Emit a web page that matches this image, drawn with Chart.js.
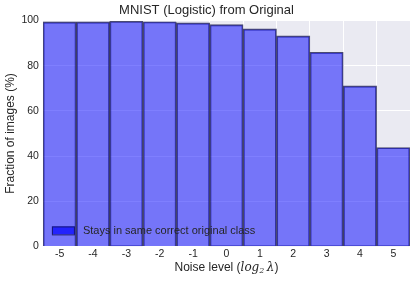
<!DOCTYPE html>
<html>
<head>
<meta charset="utf-8">
<script src="https://cdn.jsdelivr.net/npm/chart.js@4.4.0/dist/chart.umd.min.js"></script>
<style>
  html, body { margin: 0; padding: 0; background: #fff; }
  #wrap { width: 416px; height: 281px; position: relative; }
</style>
</head>
<body>
<div id="wrap"><canvas id="chartNoise"></canvas></div>
<script>
// === Data ===
const noiseLevels = ['-5', '-4', '-3', '-2', '-1', '0', '1', '2', '3', '4', '5'];
const staysSame = [99.4, 99.4, 99.7, 99.5, 99.0, 98.2, 96.3, 93.2, 86.0, 71.1, 43.8];
const yTicks = [0, 20, 40, 60, 80, 100];

const FONT = '"Liberation Sans", Arial, sans-serif';

// background of the plot area (seaborn-like)
const plotBg = {
  id: 'plotBg',
  beforeDraw(chart) {
    const { ctx, chartArea: a } = chart;
    ctx.save();
    ctx.fillStyle = '#EAEAF2';
    ctx.fillRect(a.left, a.top, a.right - a.left, a.bottom - a.top);
    ctx.restore();
  }
};

// legend inside the plot, lower left, and x axis title with math part
const extras = {
  id: 'extras',
  afterDatasetsDraw(chart) {
    const { ctx, chartArea: a } = chart;
    const ds = chart.data.datasets[0];
    ctx.save();
    // legend
    const bx = a.left + 9, by = a.bottom - 20;
    ctx.fillStyle = 'rgba(0,0,255,0.7)';
    ctx.fillRect(bx, by, 23, 8);
    ctx.strokeStyle = 'rgba(20,20,80,0.8)';
    ctx.lineWidth = 1;
    ctx.strokeRect(bx + 0.5, by + 0.5, 22, 8);
    ctx.fillStyle = '#262626';
    ctx.font = '11px ' + FONT;
    ctx.textBaseline = 'middle';
    ctx.textAlign = 'left';
    ctx.fillText(ds.label, bx + 31, by + 4.5);

    // x axis title: Noise level (log2 λ)
    const y = 268;
    const parts = [
      { t: 'Noise level (', f: '12px ' + FONT, dy: 0 },
      { t: 'log', f: 'italic 12px "DejaVu Serif", serif', dy: 0 },
      { t: '2', f: 'italic 8px "DejaVu Serif", serif', dy: 3 },
      { t: '\u2009λ', f: 'italic 12px "DejaVu Serif", serif', dy: 0 },
      { t: ')', f: '12px ' + FONT, dy: 0 }
    ];
    let total = 0;
    parts.forEach(p => { ctx.font = p.f; p.w = ctx.measureText(p.t).width; total += p.w; });
    let x = (a.left + a.right) / 2 - total / 2;
    parts.forEach(p => {
      ctx.font = p.f;
      ctx.fillText(p.t, x, y + p.dy);
      x += p.w;
    });
    ctx.restore();
  }
};

const ctx = document.getElementById('chartNoise');
new Chart(ctx, {
  type: 'bar',
  data: {
    labels: noiseLevels,
    datasets: [{
      label: 'Stays in same correct original class',
      data: staysSame,
      backgroundColor: 'rgba(0,0,255,0.5)',
      borderColor: 'rgba(20,20,70,0.75)',
      borderWidth: 1.2,
      barPercentage: 1,
      categoryPercentage: 1
    }]
  },
  plugins: [plotBg, extras],
  options: {
    responsive: true,
    maintainAspectRatio: false,
    animation: false,
    layout: { padding: { left: 3, right: 6, top: 0, bottom: 20 } },
    plugins: {
      legend: { display: false },
      tooltip: { enabled: false },
      title: {
        display: true,
        text: 'MNIST (Logistic) from Original',
        color: '#262626',
        font: { family: FONT, size: 13, weight: 'normal' },
        padding: { top: 3, bottom: 2 }
      }
    },
    scales: {
      x: {
        grid: { color: '#ffffff', lineWidth: 1, drawTicks: false, offset: true },
        border: { display: false },
        ticks: { color: '#262626', font: { family: FONT, size: 10.5 }, padding: 1 }
      },
      y: {
        min: 0,
        max: 100,
        afterBuildTicks(axis) { axis.ticks = yTicks.map(v => ({ value: v })); },
        grid: { color: '#ffffff', lineWidth: 1, drawTicks: false },
        border: { display: false },
        ticks: { color: '#262626', font: { family: FONT, size: 10.5 }, padding: 4 },
        title: {
          display: true,
          text: 'Fraction of images (%)',
          color: '#262626',
          font: { family: FONT, size: 12 },
          padding: { top: 0, bottom: 0 }
        }
      }
    }
  }
});
</script>
</body>
</html>
